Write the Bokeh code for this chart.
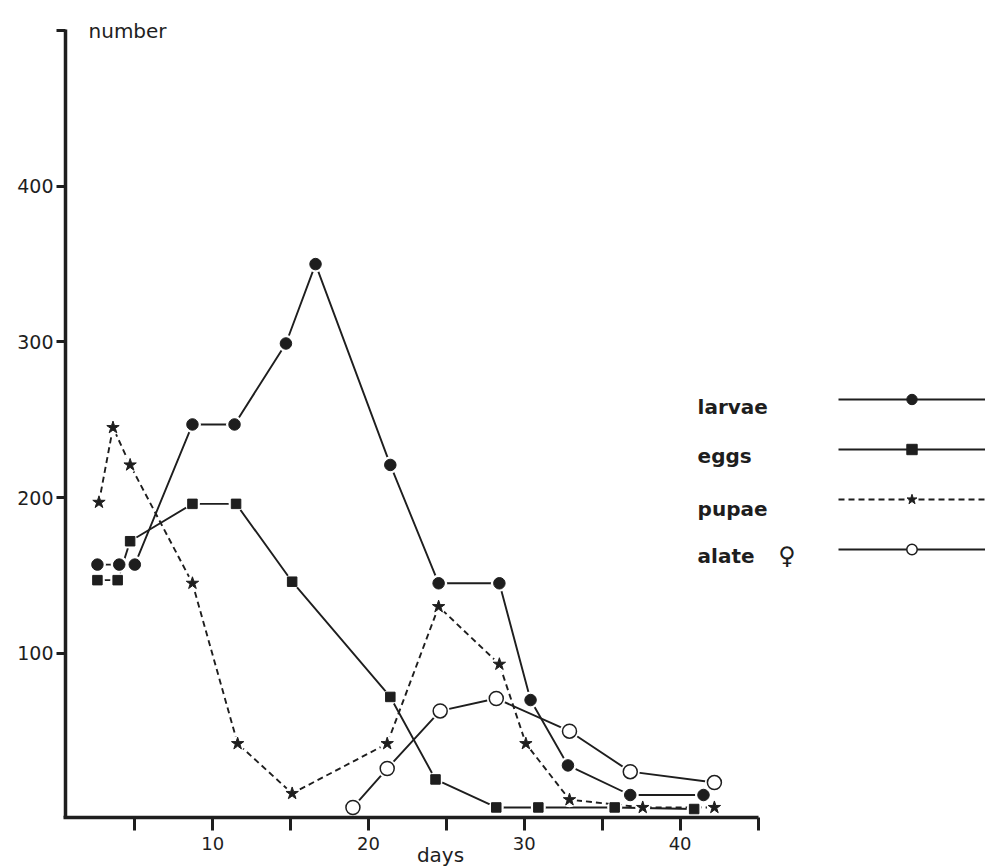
from bokeh.plotting import figure
from bokeh.models import Label, Legend, LegendItem, FixedTicker, Range1d, LinearAxis
from bokeh.embed import file_html
from bokeh.resources import INLINE

# ---- data ----
larvae_days = [2.6, 4.0, 5.0, 8.7, 11.4, 14.7, 16.6, 21.4, 24.5, 28.4, 30.4, 32.8, 36.8, 41.5]
larvae = [157, 157, 157, 247, 247, 299, 350, 221, 145, 145, 70, 28, 9, 9]

eggs_days = [2.6, 3.9, 4.7, 8.7, 11.5, 15.1, 21.4, 24.3, 28.2, 30.9, 35.8, 40.9]
eggs = [147, 147, 172, 196, 196, 146, 72, 19, 1, 1, 1, 0]

pupae_days = [2.7, 3.6, 4.7, 8.7, 11.6, 15.1, 21.2, 24.5, 28.4, 30.1, 32.9, 37.6, 42.2]
pupae = [197, 245, 221, 145, 42, 10, 42, 130, 93, 42, 6, 1, 1]

alate_days = [19.0, 21.2, 24.6, 28.2, 32.9, 36.8, 42.2]
alate = [1, 26, 63, 71, 50, 24, 17]

x_ticks = [10, 20, 30, 40]
x_minor = [5, 15, 25, 35, 45]
y_ticks = [100, 200, 300, 400]
y_minor = [500]

INK = "#1e1e1e"
FONT = "DejaVu Sans"

p = figure(width=985, height=868, output_backend="svg", toolbar_location=None,
           x_range=Range1d(-3.62, 59.60), y_range=Range1d(-38.2, 519.3),
           x_axis_type=None, y_axis_type=None,
           min_border_left=0, min_border_right=0, min_border_top=0, min_border_bottom=0)
p.outline_line_color = None
p.grid.visible = False
p.background_fill_color = "white"
p.border_fill_color = "white"

xa = LinearAxis(fixed_location=-5.5, bounds=(0.45, 45),
                ticker=FixedTicker(ticks=x_ticks, minor_ticks=x_minor))
ya = LinearAxis(fixed_location=0.55, bounds=(-5.5, 500.5),
                ticker=FixedTicker(ticks=y_ticks, minor_ticks=y_minor))
for ax in (xa, ya):
    ax.axis_line_width = 3.5
    ax.axis_line_color = INK
    ax.major_tick_line_width = 3
    ax.major_tick_line_color = INK
    ax.minor_tick_line_width = 3
    ax.minor_tick_line_color = INK
    ax.major_tick_in = 0
    ax.minor_tick_in = 0
    ax.major_label_text_font = FONT
    ax.major_label_text_color = INK

xa.major_tick_out = 13
xa.minor_tick_out = 13
xa.major_label_standoff = 6
xa.major_label_text_font_size = "18px"

ya.major_tick_out = 9
ya.minor_tick_out = 9
ya.major_label_standoff = 3
ya.major_label_text_font_size = "19px"

p.add_layout(xa, "below")
p.add_layout(ya, "left")

# ---- lines ----
lw = 1.9
l_larvae = p.line(larvae_days, larvae, line_width=lw, line_color=INK)
l_eggs = p.line(eggs_days, eggs, line_width=lw, line_color=INK)
l_pupae = p.line(pupae_days, pupae, line_width=lw, line_color=INK, line_dash="6 4")
l_alate = p.line(alate_days, alate, line_width=lw, line_color=INK)

# white halos so lines stop short of markers
for d, v, s in [(larvae_days, larvae, 17), (eggs_days, eggs, 15),
                (pupae_days, pupae, 15), (alate_days, alate, 19)]:
    p.scatter(d, v, marker="circle", size=s, fill_color="white", line_color=None)

m_larvae = p.scatter(larvae_days, larvae, marker="circle", size=11.5, fill_color=INK, line_color=INK)
m_eggs = p.scatter(eggs_days, eggs, marker="square", size=9.5, fill_color=INK, line_color=INK)
m_pupae = p.scatter(pupae_days, pupae, marker="star", size=13, fill_color=INK, line_color=INK)
m_alate = p.scatter(alate_days, alate, marker="circle", size=14, fill_color="white",
                    line_color=INK, line_width=1.5)

legend = Legend(items=[
    LegendItem(label=" ", renderers=[l_larvae, m_larvae]),
    LegendItem(label=" ", renderers=[l_eggs, m_eggs]),
    LegendItem(label=" ", renderers=[l_pupae, m_pupae]),
    LegendItem(label=" ", renderers=[l_alate, m_alate]),
], location=(838, 306), orientation="vertical", glyph_width=147, glyph_height=26,
    spacing=24, padding=0, margin=0, label_standoff=0, label_width=0, label_height=26,
    border_line_color=None, background_fill_alpha=0, label_text_font_size="1px")
p.add_layout(legend)

# legend labels (left of the samples)
for name, yv in zip(["larvae", "eggs", "pupae", "alate"], [258.5, 227.0, 193.0, 162.8]):
    p.add_layout(Label(x=41.12, y=yv, text=name, text_font=FONT, text_font_style="bold",
                       text_font_size="20px", text_baseline="alphabetic", text_color=INK))
p.add_layout(Label(x=46.3, y=171.2, text="\u2640", text_font=FONT,
                   text_font_size="24px", text_baseline="top", text_color=INK))

# axis titles
p.add_layout(Label(x=2.03, y=499.4, text="number", text_font=FONT, text_font_size="20px",
                   text_baseline="alphabetic", text_color=INK))
p.add_layout(Label(x=24.62, y=-29.8, text="days", text_font=FONT, text_font_size="20px",
                   text_baseline="alphabetic", text_align="center", text_color=INK))

open("out.html", "w").write(file_html(p, INLINE))
